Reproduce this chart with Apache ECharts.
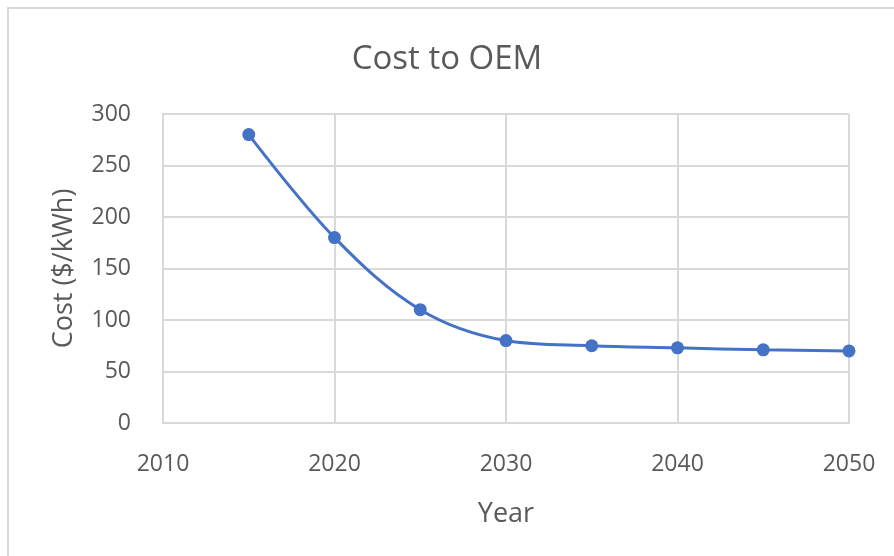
<!DOCTYPE html>
<html>
<head>
<meta charset="utf-8">
<script src="https://cdn.jsdelivr.net/npm/echarts@6/dist/echarts.min.js"></script>
<style>
  html, body { margin: 0; padding: 0; background: #fff; }
  #chart { width: 894px; height: 556px; }
</style>
</head>
<body>
<div id="chart"></div>
<script>
// Battery pack cost trajectory
const years = [2015, 2020, 2025, 2030, 2035, 2040, 2045, 2050];
const costs = [280, 180, 110, 80, 75, 73, 71, 70];
const xTicks = [2010, 2020, 2030, 2040, 2050];
const yTicks = [0, 50, 100, 150, 200, 250, 300];

const textColor = '#595959';
const gridColor = '#d9d9d9';
const font = 'Open Sans';

const chart = echarts.init(document.getElementById('chart'));
chart.setOption({
  animation: false,
  backgroundColor: '#fff',
  graphic: [{
    type: 'rect',
    shape: { x: 8, y: 8, width: 900, height: 560 },
    style: { fill: 'none', stroke: gridColor, lineWidth: 2 },
    silent: true
  }],
  title: {
    text: 'Cost to OEM',
    left: 'center',
    top: 38,
    textStyle: { color: textColor, fontFamily: font, fontSize: 33, fontWeight: 'normal' }
  },
  grid: { left: 163, top: 114, right: 45, bottom: 133, containLabel: false },
  xAxis: {
    type: 'value',
    min: xTicks[0],
    max: xTicks[xTicks.length - 1],
    interval: 10,
    name: 'Year',
    nameLocation: 'middle',
    nameGap: 78,
    nameTextStyle: { color: textColor, fontFamily: font, fontSize: 27 },
    axisLine: { show: true, lineStyle: { color: gridColor, width: 2 } },
    axisTick: { show: false },
    axisLabel: { color: textColor, fontFamily: font, fontSize: 23, margin: 30, formatter: v => String(v) },
    splitLine: { show: true, lineStyle: { color: gridColor, width: 2 } }
  },
  yAxis: {
    type: 'value',
    min: yTicks[0],
    max: yTicks[yTicks.length - 1],
    interval: 50,
    name: 'Cost ($/kWh)',
    nameLocation: 'middle',
    nameGap: 85,
    nameTextStyle: { color: textColor, fontFamily: font, fontSize: 27 },
    axisLine: { show: true, lineStyle: { color: gridColor, width: 2 } },
    axisTick: { show: false },
    axisLabel: { color: textColor, fontFamily: font, fontSize: 23, margin: 32 },
    splitLine: { show: true, lineStyle: { color: gridColor, width: 2 } }
  },
  series: [{
    type: 'line',
    data: years.map((y, i) => [y, costs[i]]),
    smooth: 0.35,
    symbol: 'circle',
    symbolSize: 13,
    lineStyle: { color: '#4472C4', width: 3 },
    itemStyle: { color: '#4472C4' }
  }]
});
</script>
</body>
</html>
